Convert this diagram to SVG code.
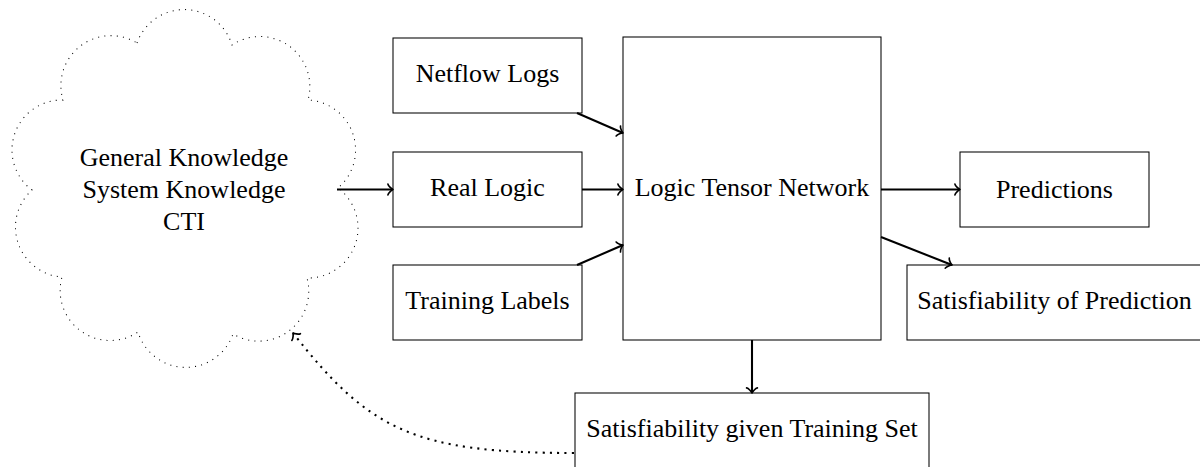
<svg xmlns="http://www.w3.org/2000/svg" width="1200" height="467" viewBox="0 0 1200 467">
<style>
.box{fill:#fff;stroke:#000;stroke-width:1.04}
.lbl{font-family:"Liberation Serif","Times New Roman",serif;font-size:26px;fill:#000;text-anchor:middle}
.edge{fill:none;stroke:#000;stroke-width:2.08}
.dotted{fill:none;stroke:#000;stroke-width:2.08;stroke-dasharray:2.08 5.2}
.cloud{fill:#fff;stroke:#000;stroke-width:1.04;stroke-dasharray:1.04 5.2}
</style>
<defs>
<marker id="to" markerUnits="userSpaceOnUse" markerWidth="20" markerHeight="20" refX="1.01" refY="0" orient="auto" overflow="visible" viewBox="-10 -10 20 20">
<path d="M-4.06,-5.41 C-3.72,-3.38 0,-0.34 1.01,0 C0,0.34 -3.72,3.38 -4.06,5.41" fill="none" stroke="#000" stroke-width="1.66" stroke-linecap="round" stroke-linejoin="round"/>
</marker>
</defs>
<g id="cloud-node">
<path class="cloud" d="M137,43 A50,50 0 0 1 232,45 A50,50 0 0 1 308,100 A50,50 0 0 1 338,188 A50,50 0 0 1 307,278 A50,50 0 0 1 233,334 A50,50 0 0 1 138,332 A50,50 0 0 1 62,277 A50,50 0 0 1 32,190 A50,50 0 0 1 63,100 A50,50 0 0 1 137,43 Z"/>
<text class="lbl" x="184" y="166">General Knowledge</text>
<text class="lbl" x="184" y="198">System Knowledge</text>
<text class="lbl" x="184" y="230">CTI</text>
</g>
<g id="netflow">
<rect class="box" x="393" y="38" width="189" height="75"/>
<text class="lbl" x="487.5" y="82">Netflow Logs</text>
</g>
<g id="reallogic">
<rect class="box" x="393" y="152" width="189" height="75"/>
<text class="lbl" x="487.5" y="196">Real Logic</text>
</g>
<g id="traininglabels">
<rect class="box" x="393" y="265" width="189" height="75"/>
<text class="lbl" x="487.5" y="309">Training Labels</text>
</g>
<g id="ltn">
<rect class="box" x="623" y="37" width="258" height="303"/>
<text class="lbl" x="752" y="196">Logic Tensor Network</text>
</g>
<g id="predictions">
<rect class="box" x="960" y="152" width="189" height="75"/>
<text class="lbl" x="1054.5" y="198">Predictions</text>
</g>
<g id="satpred">
<rect class="box" x="907" y="265" width="296" height="75"/>
<text class="lbl" x="1054.5" y="309">Satisfiability of Prediction</text>
</g>
<g id="satts">
<rect class="box" x="575" y="393" width="354" height="80"/>
<text class="lbl" x="752" y="437">Satisfiability given Training Set</text>
</g>
<g id="connectors">
<path class="edge" d="M337,189.5 L393,189.5" marker-end="url(#to)"/>
<path class="edge" d="M582,189.5 L623,189.5" marker-end="url(#to)"/>
<path class="edge" d="M577,113 L623,133" marker-end="url(#to)"/>
<path class="edge" d="M577,265 L623,245" marker-end="url(#to)"/>
<path class="edge" d="M881,189.5 L960,189.5" marker-end="url(#to)"/>
<path class="edge" d="M881,237 L952,265" marker-end="url(#to)"/>
<path class="edge" d="M752,340 L752,393" marker-end="url(#to)"/>
<path class="dotted" d="M574,453 C414,453 369,430 293,333" marker-end="url(#to)"/>
</g>
</svg>
